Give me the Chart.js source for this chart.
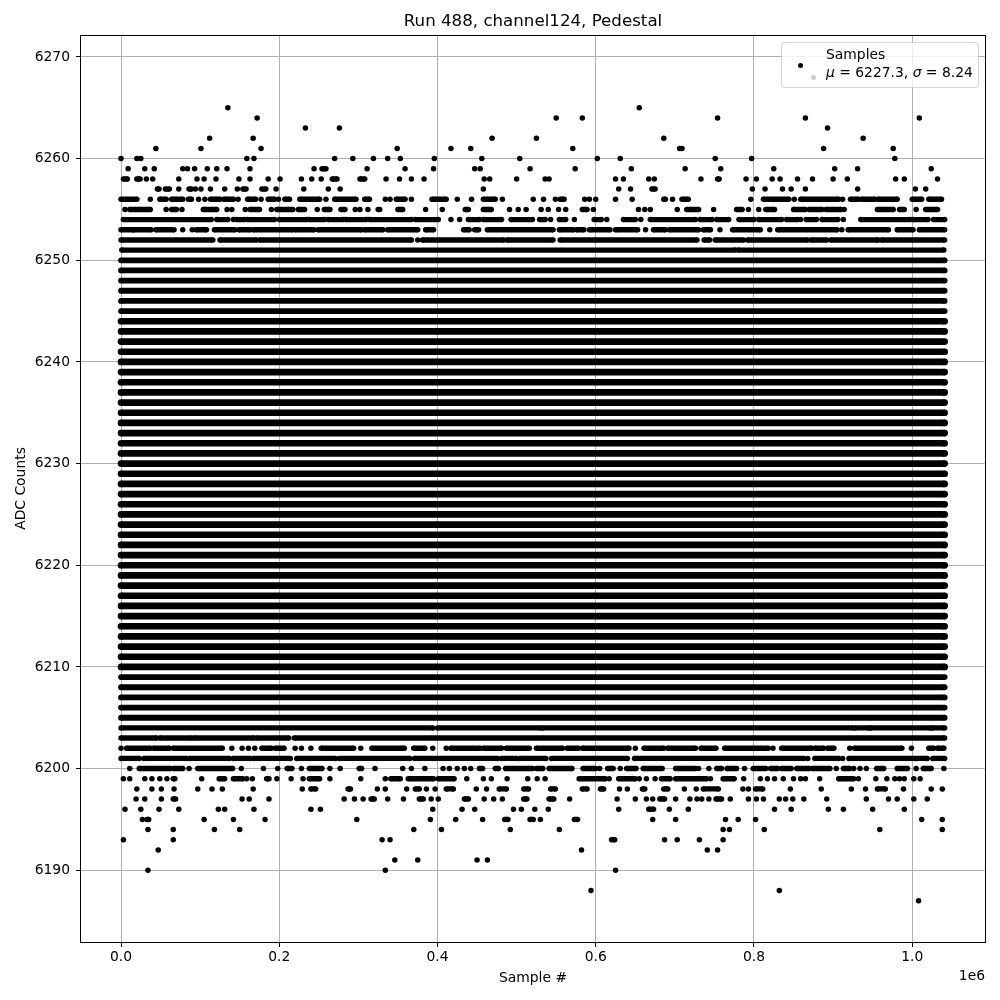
<!DOCTYPE html>
<html>
<head>
<meta charset="utf-8">
<script src="https://cdn.jsdelivr.net/npm/chart.js@4"></script>
<style>
html,body{margin:0;padding:0;background:#fff}
#wrap{position:relative;width:1000px;height:1000px}
canvas{display:block}
#legend{position:absolute;left:781px;top:42px;width:196px;height:44px;border:1px solid rgba(204,204,204,.8);border-radius:4px;background:rgba(255,255,255,.8);font:13.89px "DejaVu Sans",sans-serif;color:#000}
#legend span.t{position:absolute;left:44px;white-space:nowrap;line-height:16px}
#legend b{position:absolute;width:5.6px;height:5.6px;border-radius:50%}
</style>
</head>
<body>
<div id="wrap">
<canvas id="c" width="1000" height="1000"></canvas>
<div id="legend">
<b style="left:15.5px;top:19.5px;background:#000"></b>
<b style="left:28.5px;top:31.5px;background:#ccc"></b>
<span class="t" style="top:3px">Samples</span>
<span class="t" style="top:20.5px"><i>μ</i> = 6227.3, <i>σ</i> = 8.24</span>
</div>
</div>
<script>
// x values are in thousands of samples; a pair [a,b] is an unbroken run of samples from a to b.
const titleText = "Run 488, channel124, Pedestal";
const xLabel = "Sample #";
const yLabel = "ADC Counts";
const xTicks = [0, 200000, 400000, 600000, 800000, 1000000];
const yTicks = [6190, 6200, 6210, 6220, 6230, 6240, 6250, 6260, 6270];
const fullRow = [[0,1041]];
const thickLevels = [6210,6211,6212,6213,6214,6215,6216,6217,6218,6219,6220,6221,6222,6223,6224,6225,6226,6227,6228,6229,6230,6231,6232,6233,6234,6235,6236,6237,6238,6239,6240,6241,6242,6243,6244];
const grainyLevels = [6205,6206,6207,6208,6209,6245,6246,6247,6248,6249,6250];

const level6265 = [135,655];
const level6264 = [172,550,583,754,865,1009];
const level6263 = [233,276,893];
const level6262 = [112,167,469,525,686,938];
const level6261 = [44,101,177,349,417,442,571,706,709,888,976];
const level6260 = [0,20,25,159,168,270,293,319,337,353,396,456,504,602,631,751,797,978];
const level6259 = [9,30,42,78,84,93,109,121,134,163,244,[254,259],311,359,395,447,454,517,574,645,713,758,825,902,931,1024];
const level6258 = [[3,8],[20,24],32,40,73,96,105,120,149,163,186,201,228,241,253,[267,273],[302,308],335,352,367,383,459,466,500,536,541,625,635,667,674,733,[754,756],790,803,823,833,855,874,900,918,979,990,1032];
const level6257 = [[46,48],[56,61],73,[86,89],94,101,113,131,147,[154,158],[178,183],196,231,262,277,458,629,644,[671,675],798,814,836,847,865,931,1004,1017];
const level6256 = [[0,20],37,[49,57],[64,78],[85,89],98,106,[113,125],[130,142],148,[160,170],177,[186,194],199,[207,213],[226,251],259,[270,297],[308,314],334,340,[348,359],367,[393,411],425,443,[458,473],482,521,534,549,[555,560],586,592,600,625,646,[686,688],697,[709,717],796,[812,844],851,[859,907],912,[922,932],[936,953],[957,981],[1000,1012],[1021,1037]];
const level6255 = [5,[11,19],[21,37],57,[64,70],77,[104,121],134,140,157,[163,175],190,[197,217],[224,232],248,[257,264],[278,283],296,302,312,325,327,[350,356],385,406,[435,439],[458,468],491,502,512,531,540,553,562,[583,589],597,654,662,669,703,[715,730],749,[778,785],793,806,[815,826],[850,865],[870,886],[891,910],914,[956,976],[984,990],1005,[1017,1032]];
const level6254 = [[3,114],[121,135],142,[146,156],[160,194],[200,235],[238,257],[262,281],[284,310],[314,367],[372,401],417,428,[439,453],[458,481],[493,520],[529,536],543,[554,562],573,[598,607],614,[635,650],657,[669,726],[732,747],[753,768],[781,800],[806,835],[841,855],859,[866,879],[886,906],913,[935,998],[1001,1020],[1027,1041]];
const level6253 = [[0,15],[16,38],[44,67],78,90,[95,108],[118,144],[149,163],[167,217],[220,244],[249,304],[308,331],[337,375],[385,395],[433,440],[447,452],[463,546],[554,572],[576,585],[592,618],[625,653],663,[673,688],[693,730],[736,745],757,[773,808],820,[830,905],911,[919,970],[981,1001],[1009,1041]];
const level6252 = [[0,116],[125,171],[175,367],375,[381,484],[488,546],[555,728],[737,744],[751,787],[792,868],[872,892],[897,957],[961,1041]];
const level6251 = [[1,776],[780,1040]];
const level6204 = [[0,394],[400,530],[533,925],[928,945],[947,1023],[1025,1041]];
const level6203 = [[0,45],[49,89],[92,168],[171,212],[219,1041]];
const level6202 = [0,[7,37],[41,61],[66,128],140,153,161,169,[178,190],[195,206],220,228,240,[253,294],303,[317,358],[370,384],394,411,[417,454],[458,481],[487,516],[525,558],[564,578],[583,642],650,[661,686],[691,726],[733,752],[763,818],824,[835,873],[877,888],[893,901],921,[927,987],999,[1021,1027],[1032,1040]];
const level6201 = [[0,23],[29,83],[87,137],[142,163],[167,214],[222,271],[276,365],[371,394],[397,476],[481,500],[504,537],[544,640],[649,863],868,[877,907],912,[920,1004],[1007,1019],[1026,1041]];
const level6200 = [11,[23,62],[66,78],86,[97,141],152,180,198,[210,216],228,[238,254],264,277,[301,304],321,356,367,384,407,415,425,434,442,[453,457],[473,477],[486,520],[525,533],[541,570],[584,600],605,[615,622],631,[639,651],[660,684],[701,726],730,743,[753,759],[766,778],788,[799,815],[821,830],[835,847],[854,870],[874,896],904,[913,921],926,934,942,[955,964],[981,994],1005,[1014,1024],1040];
const level6199 = [3,11,30,39,49,58,[66,68],102,[124,131],[142,154],159,166,[184,187],197,215,230,[238,251],264,303,334,[341,353],[363,395],[401,421],437,458,468,488,514,526,536,[579,612],617,[629,650],655,664,675,[683,694],[701,740],745,[761,775],787,808,817,826,837,850,859,865,883,[907,926],932,954,968,978,984,990,1002,1010];
const level6198 = [20,39,51,67,97,115,128,167,229,[240,246],[287,290],324,334,361,[372,377],386,397,[411,420],449,462,[478,487],[509,515],[543,549],[583,589],[606,610],630,640,[659,662],[686,691],712,727,[736,755],786,793,[802,811],846,885,923,941,[956,966],989,1024,1038];
const level6197 = [19,30,51,[66,69],153,162,187,282,295,306,[316,320],337,357,[377,382],392,401,[434,439],459,471,482,[509,513],[541,547],567,627,650,664,672,[681,687],701,719,728,734,743,[752,759],770,793,803,812,832,840,849,863,892,942,970,981,1002,1019];
const level6196 = [5,25,48,73,123,131,168,240,252,394,431,447,496,506,523,540,629,[667,673],693,717,826,847,894,913,950,990];
const level6195 = [27,[33,35],105,142,182,298,391,423,457,[485,489],[517,521],530,[573,577],672,701,764,780,802,1012,1038];
const level6194 = [34,66,118,150,370,405,492,554,761,769,813,959,1038];
const level6193 = [3,66,330,340,[620,624],687,703,731,761];
const level6192 = [47,582,741,754];
const level6191 = [346,375,450,463];
const level6190 = [34,334,625];
const level6188 = [594,832];
const level6187 = [1008];

const sparseRows = {
  6265:level6265,6264:level6264,6263:level6263,6262:level6262,6261:level6261,6260:level6260,
  6259:level6259,6258:level6258,6257:level6257,6256:level6256,6255:level6255,6254:level6254,
  6253:level6253,6252:level6252,6251:level6251,6204:level6204,6203:level6203,6202:level6202,
  6201:level6201,6200:level6200,6199:level6199,6198:level6198,6197:level6197,6196:level6196,
  6195:level6195,6194:level6194,6193:level6193,6192:level6192,6191:level6191,6190:level6190,
  6188:level6188,6187:level6187
};

function toPoints(level, row){
  const pts = [];
  row.forEach(item => {
    if (Array.isArray(item)) pts.push({x:item[0]*1000,y:level},{x:item[1]*1000,y:level});
    else pts.push({x:item*1000,y:level});
    pts.push({x:NaN,y:NaN});
  });
  return pts;
}
function rowDataset(level, row, lineSize, dotSize){
  return {label:String(level), data:toPoints(level,row), showLine:true, spanGaps:false,
    borderColor:"#000", backgroundColor:"#000", borderWidth:lineSize, borderCapStyle:"butt",
    pointRadius:dotSize/2, pointHoverRadius:dotSize/2, pointBorderWidth:0, tension:0};
}
const datasets = [];
Object.keys(sparseRows).forEach(k => datasets.push(rowDataset(+k, sparseRows[k], 5.4, 5.5)));
grainyLevels.forEach(l => datasets.push(rowDataset(l, fullRow, 5.8, 5.8)));
thickLevels.forEach(l => datasets.push(rowDataset(l, fullRow, 6.7, 6.7)));

const frame = {
  id:"frame",
  afterDraw(chart){
    const {ctx} = chart;
    ctx.save();
    ctx.strokeStyle = "#000"; ctx.lineWidth = 1;
    ctx.strokeRect(80.5, 35.5, 905, 907);
    ctx.fillStyle = "#000"; ctx.font = '13.89px "DejaVu Sans"';
    ctx.textAlign = "right"; ctx.textBaseline = "middle";
    ctx.fillText("1e6", 985, 976);
    ctx.restore();
  }
};
const font = {family:'"DejaVu Sans"', size:13.89};
new Chart(document.getElementById("c"), {
  type:"scatter",
  data:{datasets},
  plugins:[frame],
  options:{
    responsive:false, animation:false, devicePixelRatio:1,
    layout:{padding:{left:0,right:15,top:0,bottom:0}},
    plugins:{
      legend:{display:false}, tooltip:{enabled:false},
      title:{display:true,text:titleText,color:"#000",fullSize:false,
        font:{family:'"DejaVu Sans"',size:16.67,weight:"normal",lineHeight:1},
        padding:{top:13,bottom:5.33}}
    },
    scales:{
      x:{type:"linear",min:-50600,max:1092000,
        afterFit(s){s.height=58},
        afterBuildTicks(s){s.ticks=xTicks.map(v=>({value:v}))},
        grid:{color:"#b0b0b0",lineWidth:1,tickColor:"#000",tickLength:5},
        border:{display:false},
        ticks:{color:"#000",font,padding:2,maxRotation:0,callback:v=>(v/1e6).toFixed(1)},
        title:{display:true,text:xLabel,color:"#000",font,padding:{top:3,bottom:13}}},
      y:{type:"linear",min:6182.94,max:6272.16,
        afterFit(s){s.width=81},
        afterBuildTicks(s){s.ticks=yTicks.map(v=>({value:v}))},
        grid:{color:"#b0b0b0",lineWidth:1,tickColor:"#000",tickLength:5},
        border:{display:false},
        ticks:{color:"#000",font,padding:6,callback:v=>String(v)},
        title:{display:true,text:yLabel,color:"#000",font,padding:{top:13,bottom:4}}}
    }
  }
});
</script>
</body>
</html>
